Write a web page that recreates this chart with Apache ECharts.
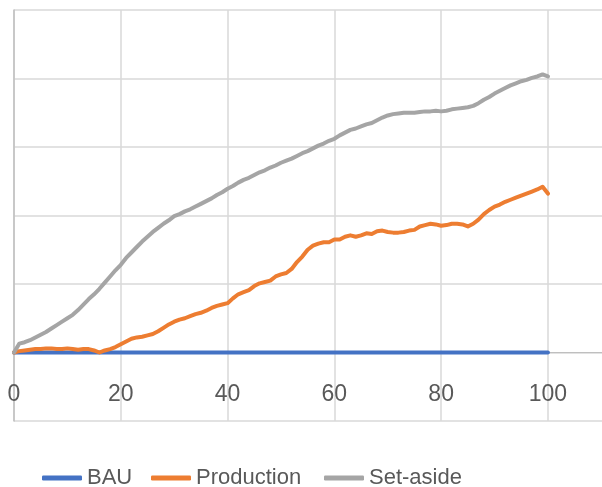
<!DOCTYPE html>
<html>
<head>
<meta charset="utf-8">
<style>
  html, body { margin: 0; padding: 0; background: #ffffff; }
  #chart { width: 602px; height: 487px; }
</style>
<script src="https://cdn.jsdelivr.net/npm/echarts@6/dist/echarts.min.js"></script>
</head>
<body>
<div id="chart"></div>
<script>
// Time steps 0..100
const steps = [];
for (let i = 0; i <= 100; i++) steps.push(i);

const seriesNames = ['BAU', 'Production', 'Set-aside'];
const seriesColors = ['#4472c4', '#ed7d31', '#a5a5a5'];

const bau = [
  0,0,0,0,0,0,0,0,0,0,
  0,0,0,0,0,0,0,0,0,0,
  0,0,0,0,0,0,0,0,0,0,
  0,0,0,0,0,0,0,0,0,0,
  0,0,0,0,0,0,0,0,0,0,
  0,0,0,0,0,0,0,0,0,0,
  0,0,0,0,0,0,0,0,0,0,
  0,0,0,0,0,0,0,0,0,0,
  0,0,0,0,0,0,0,0,0,0,
  0,0,0,0,0,0,0,0,0,0,
  0
];

const production = [
  0.0, 0.2, 0.3, 0.4, 0.5, 0.5, 0.6, 0.6, 0.5, 0.5,
  0.6, 0.5, 0.4, 0.5, 0.5, 0.3, 0.0, 0.3, 0.5, 0.8,
  1.2, 1.6, 2.0, 2.2, 2.3, 2.5, 2.7, 3.1, 3.6, 4.1,
  4.5, 4.8, 5.0, 5.3, 5.6, 5.8, 6.1, 6.5, 6.8, 7.0,
  7.2, 7.9, 8.5, 8.8, 9.1, 9.7, 10.1, 10.3, 10.5, 11.1,
  11.4, 11.6, 12.2, 13.2, 14.0, 15.0, 15.6, 15.9, 16.1, 16.1,
  16.5, 16.5, 16.9, 17.1, 16.9, 17.1, 17.4, 17.3, 17.7, 17.8,
  17.6, 17.5, 17.5, 17.6, 17.8, 17.9, 18.4, 18.6, 18.8, 18.7,
  18.5, 18.6, 18.8, 18.8, 18.7, 18.4, 18.8, 19.4, 20.2, 20.8,
  21.3, 21.6, 22.0, 22.3, 22.6, 22.9, 23.2, 23.5, 23.8, 24.2,
  23.2
];

const setAside = [
  0.0, 1.3, 1.5, 1.8, 2.2, 2.6, 3.0, 3.5, 4.0, 4.5,
  5.0, 5.5, 6.2, 7.0, 7.8, 8.5, 9.3, 10.2, 11.1, 12.0,
  12.8, 13.8, 14.6, 15.4, 16.2, 16.9, 17.6, 18.2, 18.8, 19.3,
  19.9, 20.2, 20.6, 20.9, 21.3, 21.7, 22.1, 22.5, 23.0, 23.4,
  23.9, 24.3, 24.8, 25.2, 25.5, 25.9, 26.3, 26.6, 27.0, 27.3,
  27.7, 28.0, 28.3, 28.7, 29.1, 29.4, 29.8, 30.2, 30.5, 30.9,
  31.2, 31.7, 32.1, 32.5, 32.7, 33.0, 33.3, 33.5, 33.9, 34.3,
  34.6, 34.8, 34.9, 35.0, 35.0, 35.0, 35.1, 35.2, 35.2, 35.3,
  35.2, 35.3, 35.5, 35.6, 35.7, 35.8, 36.0, 36.4, 36.9, 37.3,
  37.8, 38.2, 38.6, 39.0, 39.3, 39.6, 39.8, 40.1, 40.3, 40.6,
  40.3
];

const seriesValues = [bau, production, setAside];

const FONT = '"Liberation Sans", Arial, sans-serif';

function pairs(values) {
  return steps.map((x, i) => [x, values[i]]);
}

const chart = echarts.init(document.getElementById('chart'), null, { renderer: 'canvas' });

// plot area: 14..(off right edge) horizontally, 10..421 vertically
const GRID_TOP = 10;
const GRID_BOTTOM = 66;
const Y_MIN = -10, Y_MAX = 50;
const plotH = 487 - GRID_TOP - GRID_BOTTOM;
// lift the horizontal axis from the bottom edge up to the zero line
const zeroOffset = -plotH * (0 - Y_MIN) / (Y_MAX - Y_MIN);

// one legend entry per component so each sits at its own x position
const legendLefts = [42, 151, 324];
const legends = seriesNames.map((name, k) => ({
  data: [name],
  left: legendLefts[k],
  top: 467,
  padding: 0,
  icon: 'roundRect',
  itemWidth: 40,
  itemHeight: 5,
  textStyle: { fontFamily: FONT, fontSize: 22, color: '#595959' }
}));

chart.setOption({
  animation: false,
  backgroundColor: '#ffffff',
  grid: {
    left: 14, right: -10, top: GRID_TOP, bottom: GRID_BOTTOM,
    containLabel: false, outerBoundsMode: 'none'
  },
  legend: legends,
  xAxis: [{
    type: 'value',
    min: 0,
    max: 112,
    interval: 20,
    position: 'bottom',
    offset: zeroOffset,
    axisLine: { show: true, onZero: false, lineStyle: { color: '#bfbfbf', width: 1 } },
    axisTick: { show: false },
    axisLabel: {
      fontFamily: FONT, fontSize: 23, color: '#595959', margin: 31,
      showMaxLabel: false
    },
    splitLine: { show: true, lineStyle: { color: '#d9d9d9', width: 1.5 } }
  }],
  yAxis: {
    type: 'value',
    min: Y_MIN,
    max: Y_MAX,
    interval: 10,
    axisLine: { show: true, onZero: false, lineStyle: { color: '#bfbfbf', width: 1.5 } },
    axisTick: { show: false },
    axisLabel: { show: false },
    splitLine: { show: true, lineStyle: { color: '#d9d9d9', width: 1.5 } }
  },
  series: seriesNames.map((name, k) => ({
    name: name,
    type: 'line',
    data: pairs(seriesValues[k]),
    showSymbol: false,
    symbol: 'none',
    smooth: false,
    color: seriesColors[k],
    lineStyle: { color: seriesColors[k], width: 4, cap: 'round', join: 'round' },
    z: 2 + k
  }))
});
</script>
</body>
</html>
